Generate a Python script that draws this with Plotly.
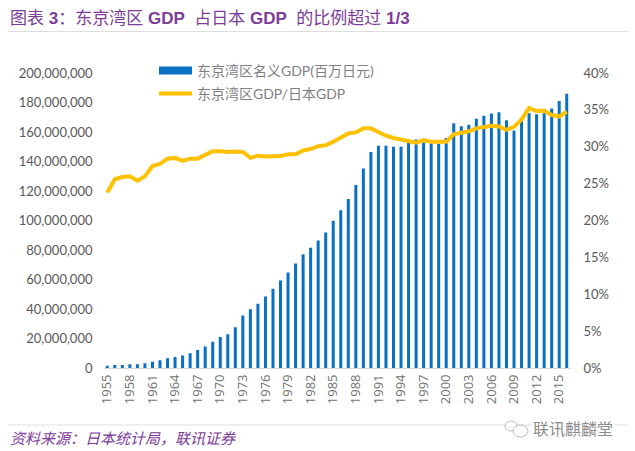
import plotly.graph_objects as go

W = 635
H = 451

years = [str(y) for y in range(1955, 2017)]
tick_years = ["1955", "1958", "1961", "1964", "1967", "1970", "1973", "1976", "1979", "1982", "1985",
              "1988", "1991", "1994", "1997", "2000", "2003", "2006", "2009", "2012", "2015"]

# nominal GDP, millions of yen
gdp = [1.8, 2.3, 2.3, 2.7, 2.7, 3.4, 4.5, 5.4, 6.8, 7.7, 8.6, 10.2, 12.4, 14.7, 17.9, 21.2, 23.0, 27.8,
       35.7, 40.0, 43.8, 48.6, 53.8, 59.4, 64.9, 71.0, 77.3, 81.6, 86.6, 92.0, 100.0, 107.0, 114.6, 124.2,
       135.3, 146.5, 150.7, 150.7, 150.0, 150.0, 153.6, 155.0, 153.0, 152.5, 152.0, 156.0, 165.9, 164.0,
       165.0, 169.0, 171.0, 172.6, 173.5, 168.0, 161.0, 168.0, 172.8, 172.0, 172.8, 176.0, 181.0, 186.0]
gdp = [v * 1e6 for v in gdp]

# share of national GDP, percent
share = [23.8, 25.6, 25.9, 26.0, 25.4, 26.0, 27.4, 27.7, 28.4, 28.5, 28.1, 28.4, 28.4, 28.9, 29.4, 29.4,
         29.3, 29.35, 29.3, 28.5, 28.8, 28.7, 28.7, 28.75, 29.0, 29.0, 29.5, 29.7, 30.1, 30.2, 30.7, 31.3,
         31.8, 31.95, 32.5, 32.5, 32.0, 31.5, 31.2, 31.0, 30.8, 30.55, 30.9, 30.7, 30.7, 30.7, 31.7, 31.85,
         32.1, 32.5, 32.7, 32.85, 32.75, 32.3, 32.7, 33.7, 35.25, 34.85, 34.9, 34.3, 34.1, 34.75]
share = [v / 100 for v in share]

GREY = "#595959"
PURPLE = "#7D3C98"
BLUE = "#0A70C4"
CJK = "Liberation Sans, Noto Sans CJK SC"
LABEL = "Lato, Noto Sans CJK SC"

fig = go.Figure()

fig.add_trace(go.Bar(
    x=years, y=gdp,
    marker=dict(color=BLUE, line=dict(width=0)),
    showlegend=False,
))
# bar swatches in the legend are small squares, so a thick empty line stands in for it
fig.add_trace(go.Scatter(
    x=[None], y=[None],
    mode="lines",
    name="东京湾区名义GDP(百万日元)",
    line=dict(color=BLUE, width=8),
    showlegend=True,
    legend="legend",
))
fig.add_trace(go.Scatter(
    x=years, y=share,
    mode="lines",
    name="东京湾区GDP/日本GDP",
    line=dict(color="#FFC000", width=4),
    yaxis="y2",
    showlegend=True,
    legend="legend2",
))

legend_base = dict(
    xanchor="left", yanchor="middle",
    bgcolor="rgba(0,0,0,0)",
    font=dict(family=LABEL, size=14, color="#808080"),
    itemwidth=33,
)

fig.update_layout(
    width=W, height=H,
    margin=dict(l=0, r=0, t=0, b=0),
    paper_bgcolor="white",
    plot_bgcolor="white",
    bargap=0.6,
    showlegend=True,
    legend=dict(legend_base, x=154 / W, y=1 - 71 / H),
    legend2=dict(legend_base, x=154 / W, y=1 - 94 / H),
    xaxis=dict(
        domain=[103.5 / W, 570.5 / W],
        type="category",
        tickmode="array", tickvals=tick_years, ticktext=tick_years,
        tickangle=-90,
        tickfont=dict(family="Open Sans", size=13, color="#707070"),
        ticks="", showgrid=False,
        showline=True, linecolor="#D9D9D9", linewidth=1,
        anchor="y",
        automargin=False,
    ),
    yaxis=dict(
        domain=[1 - 368.3 / H, 1 - 73 / H],
        range=[0, 200000000], dtick=20000000,
        tickformat=",",
        tickfont=dict(family=LABEL, size=13, color=GREY),
        ticklabelstandoff=10,
        showgrid=False, zeroline=False, ticks="",
        automargin=False,
    ),
    yaxis2=dict(
        domain=[1 - 368.3 / H, 1 - 73 / H],
        range=[0, 0.4], dtick=0.05,
        tickformat=".0%",
        tickfont=dict(family=LABEL, size=13, color=GREY),
        ticklabelstandoff=12,
        overlaying="y", side="right",
        showgrid=False, zeroline=False, ticks="",
        automargin=False,
    ),
    annotations=[
        dict(
            text="图表 <b>3</b>\uff1a东京湾区 <b>GDP</b>  占日本 <b>GDP</b>  的比例超过 <b>1/3</b>",
            xref="paper", yref="paper", x=8 / W, y=1 - 19 / H,
            xanchor="left", yanchor="middle", showarrow=False,
            font=dict(family=CJK, size=17, color=PURPLE),
        ),
        dict(
            text="<i>资料来源\uff1a日本统计局\uff0c联讯证券</i>",
            xref="paper", yref="paper", x=8 / W, y=1 - 438 / H,
            xanchor="left", yanchor="middle", showarrow=False,
            font=dict(family=CJK, size=15, color=PURPLE),
        ),
        dict(
            text="联讯麒麟堂",
            xref="paper", yref="paper", x=531 / W, y=1 - 429 / H,
            xanchor="left", yanchor="middle", showarrow=False, bgcolor="white",
            font=dict(family=CJK, size=16, color="#8C8C8C"),
        ),
    ],
    shapes=[
        dict(type="line", xref="paper", yref="paper", x0=8 / W, x1=628 / W,
             y0=1 - 31.5 / H, y1=1 - 31.5 / H, line=dict(color="#DDDDDD", width=1)),
        dict(type="line", xref="paper", yref="paper", x0=8 / W, x1=628 / W,
             y0=1 - 425 / H, y1=1 - 425 / H, line=dict(color="#DDDDDD", width=1)),
        dict(type="circle", xref="paper", yref="paper", x0=505 / W, x1=517 / W,
             y0=1 - 431 / H, y1=1 - 421 / H, fillcolor="white", line=dict(color="#BBBBBB", width=1)),
        dict(type="circle", xref="paper", yref="paper", x0=513 / W, x1=528 / W,
             y0=1 - 437 / H, y1=1 - 425 / H, fillcolor="white", line=dict(color="#BBBBBB", width=1)),
    ],
)

# the page's default body margin would push the figure out of the window
fig.write_html(
    "out.html",
    config=dict(displayModeBar=False),
    post_script="document.body.style.margin='0';",
)
